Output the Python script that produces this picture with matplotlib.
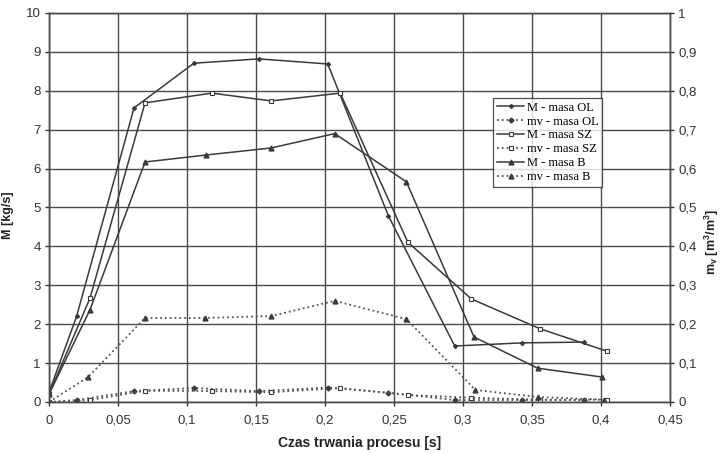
import matplotlib
matplotlib.use("Agg")
import matplotlib.pyplot as plt
from matplotlib.ticker import FuncFormatter, MultipleLocator

# ---- data ----
t_ol = [0.0, 0.020, 0.0616, 0.105, 0.152, 0.202, 0.246, 0.294, 0.343, 0.388]
M_ol = [0.25, 2.2, 7.56, 8.71, 8.82, 8.69, 4.78, 1.44, 1.52, 1.54]
mv_ol = [0.0, 0.005, 0.028, 0.036, 0.028, 0.037, 0.024, 0.005, 0.005, 0.005]

t_sz = [0.0, 0.0297, 0.0696, 0.118, 0.161, 0.211, 0.260, 0.306, 0.356, 0.404]
M_sz = [0.2, 2.67, 7.69, 7.94, 7.74, 7.94, 4.11, 2.65, 1.88, 1.31]
mv_sz = [0.0, 0.005, 0.029, 0.028, 0.025, 0.036, 0.018, 0.011, 0.006, 0.006]

t_b = [0.0, 0.0297, 0.0696, 0.114, 0.161, 0.207, 0.259, 0.308, 0.354, 0.401]
M_b = [0.2, 2.37, 6.17, 6.35, 6.53, 6.9, 5.66, 1.67, 0.87, 0.64]
t_bv = [0.0, 0.0283, 0.0696, 0.113, 0.161, 0.207, 0.259, 0.309, 0.354, 0.402]
mv_b = [0.0, 0.064, 0.216, 0.216, 0.221, 0.260, 0.213, 0.031, 0.013, 0.006]

labels = ["M - masa OL", "mv - masa OL", "M - masa SZ", "mv - masa SZ", "M - masa B", "mv - masa B"]

xlabel = "Czas trwania procesu [s]"
ylabel_left = "M [kg/s]"
ylabel_right = r"m$_\mathregular{v}$ [m$^\mathregular{3}$/m$^\mathregular{3}$]"

# ---- plotting ----
plt.rcParams['font.family'] = ['Liberation Sans', 'DejaVu Sans']
fig = plt.figure(figsize=(7.22, 4.53), dpi=100)
ax = fig.add_axes([49/722, 51/453, (670-49)/722, (402-13)/453])
ax2 = ax.twinx()

c = '#3a3a3a'
cv = '#555555'
gc = '#4a4a4a'
lw = 1.1

h1, = ax.plot(t_ol, M_ol, '-', color=c, lw=lw, marker='D', ms=2, mfc=c, mec=c)
h3, = ax.plot(t_sz, M_sz, '-', color=c, lw=lw, marker='s', ms=3.5, mfc='white', mec=c, mew=0.8)
h5, = ax.plot(t_b, M_b, '-', color=c, lw=lw, marker='^', ms=3.5, mfc=c, mec=c)

h2, = ax2.plot(t_ol, mv_ol, ':', color=cv, lw=1.3, marker='D', ms=2.5, mfc=c, mec=c)
h4, = ax2.plot(t_sz, mv_sz, ':', color=cv, lw=1.3, marker='s', ms=3.5, mfc='white', mec=c, mew=0.8)
h6, = ax2.plot(t_bv, mv_b, ':', color=cv, lw=1.3, marker='^', ms=3.5, mfc=c, mec=c)

ax.set_xlim(0, 0.45)
ax.set_ylim(0, 10)
ax2.set_ylim(0, 1)
ax.xaxis.set_major_locator(MultipleLocator(0.05))
ax.yaxis.set_major_locator(MultipleLocator(1))
ax2.yaxis.set_major_locator(MultipleLocator(0.1))

def comma(v, pos):
    s = ('%.2f' % v).rstrip('0').rstrip('.')
    return s.replace('.', ',')

ax.xaxis.set_major_formatter(FuncFormatter(comma))
ax.yaxis.set_major_formatter(FuncFormatter(comma))
ax2.yaxis.set_major_formatter(FuncFormatter(comma))

ax.grid(True, color=gc, lw=1.0)
ax.set_axisbelow(True)
for a in (ax, ax2):
    for sp in a.spines.values():
        sp.set_color(gc)
        sp.set_linewidth(1.0)
    a.tick_params(colors='#333333', labelsize=9.5, length=3, width=1.0, direction='out', pad=3)
ax.tick_params(axis='x', pad=6)

ax.set_xlabel(xlabel, fontsize=10, fontweight='bold', color='#222222', labelpad=7)
ax.set_ylabel(ylabel_left, fontsize=9, fontweight='bold', color='#222222')
ax2.set_ylabel(ylabel_right, fontsize=9, fontweight='bold', color='#222222')
ax.yaxis.set_label_coords((14 - 49) / 621, 0.48)
ax2.yaxis.set_label_coords((703 - 49) / 621, 0.41)

leg = ax2.legend([h1, h2, h3, h4, h5, h6], labels,
                 loc='upper left', bbox_to_anchor=((493-49)/621, (402-98)/389),
                 prop={'family': 'Liberation Serif', 'size': 9},
                 frameon=True, fancybox=False, edgecolor='#222222',
                 handlelength=2.2, handletextpad=0.2, labelspacing=0.15,
                 borderpad=0.3, borderaxespad=0)
leg.get_frame().set_linewidth(0.9)

fig.savefig("out.png", dpi=100)
